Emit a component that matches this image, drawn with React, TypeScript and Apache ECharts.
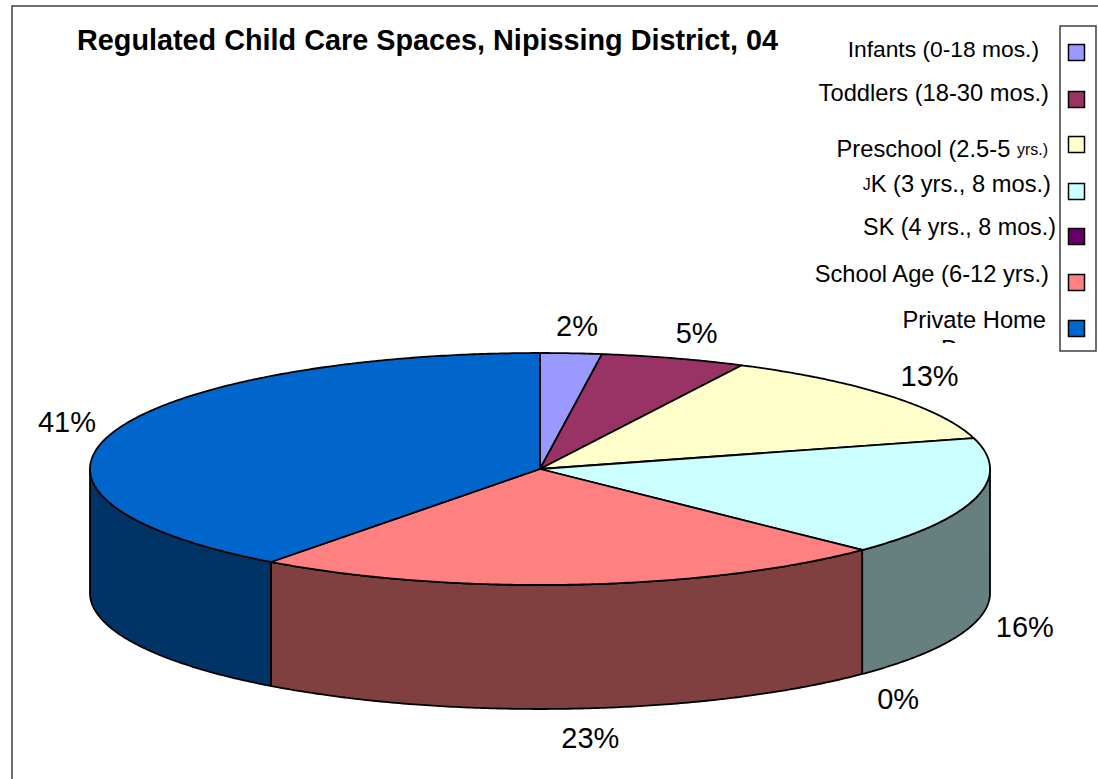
import React, { useEffect, useRef } from "react";
import * as echarts from "echarts";

const categories = [
  "Infants (0-18 mos.)",
  "Toddlers (18-30 mos.)",
  "Preschool (2.5-5 yrs.)",
  "JK (3 yrs., 8 mos.)",
  "SK (4 yrs., 8 mos.)",
  "School Age (6-12 yrs.)",
  "Private Home Daycare",
];
const shares = [2.2, 5.2, 13.3, 16.6, 0, 22.9, 39.8];
const percentLabels = ["2%", "5%", "13%", "16%", "0%", "23%", "41%"];
const topColors = ["#9999FF", "#993366", "#FFFFCC", "#CCFFFF", "#660066", "#FF8080", "#0066CC"];
const sideColors = ["#4D4D80", "#4D1A33", "#808066", "#668080", "#330033", "#804040", "#003366"];

const CX = 540;
const CY = 469;
const RX = 450;
const RY = 116;
const DEPTH = 124;
const FONT = "'Liberation Sans', Arial, sans-serif";
const labelNudge = [
  [6, -27],
  [23, -25],
  [42, -19],
  [49, 5],
  [36, 25],
  [15, 29],
  [-46, -10],
];
const legendRows = [
  { text: "Infants (0-18 mos.)", right: 1039, y: 49, box: 44, size: 22.8 },
  { text: "Toddlers (18-30 mos.)", right: 1049, y: 93, box: 91, size: 23.7 },
  { text: "Preschool (2.5-5 {s|yrs.)}", right: 1048, y: 149, box: 136, size: 23.7 },
  { text: "{s|J}K (3 yrs., 8 mos.)", right: 1051, y: 184, box: 183, size: 23.7 },
  { text: "SK (4 yrs., 8 mos.)", right: 1056, y: 227, box: 228, size: 23.3 },
  { text: "School Age (6-12 yrs.)", right: 1049, y: 274, box: 274, size: 23.7 },
  { text: "Private Home", right: 1046, y: 320, box: 320, size: 23.7 },
];
const clippedSecondLine = "Daycare";

const rim = (deg: number, dy = 0): number[] => {
  const t = (deg * Math.PI) / 180;
  return [CX + RX * Math.sin(t), CY - RY * Math.cos(t) + dy];
};

const arc = (a: number, b: number, dy = 0): number[][] => {
  const pts: number[][] = [];
  const n = Math.max(1, Math.ceil((b - a) / 0.5));
  for (let i = 0; i <= n; i++) pts.push(rim(a + ((b - a) * i) / n, dy));
  return pts;
};

const cumulative = shares.map((_, i) => shares.slice(0, i).reduce((s, v) => s + v, 0));
const total = shares.reduce((s, v) => s + v, 0);

const renderSlice = (params: any, api: any) => {
  const i = params.dataIndex;
  const start = (api.value(1) / total) * 360;
  const end = start + (api.value(0) / total) * 360;
  const children: any[] = [];
  if (end > start) {
    const from = Math.max(start, 90);
    const to = Math.min(end, 270);
    if (to > from) {
      children.push({
        type: "polygon",
        shape: { points: [...arc(from, to), ...arc(from, to, DEPTH).reverse()] },
        style: { fill: sideColors[i], stroke: "#000", lineWidth: 1.8, lineJoin: "round" },
      });
    }
    children.push({
      type: "polygon",
      shape: { points: [[CX, CY], ...arc(start, end)] },
      style: { fill: topColors[i], stroke: "#000", lineWidth: 1.8, lineJoin: "round" },
    });
  }
  const mid = (start + end) / 2;
  const front = Math.cos((mid * Math.PI) / 180) < 0;
  const [ax, ay] = rim(mid, front ? DEPTH : 0);
  children.push({
    type: "text",
    z2: 10,
    style: {
      text: percentLabels[i],
      x: ax + labelNudge[i][0],
      y: ay + labelNudge[i][1],
      align: "center",
      verticalAlign: "middle",
      fill: "#000",
      fontFamily: FONT,
      fontSize: 29,
    },
  });
  return { type: "group", children };
};

export default function App() {
  const ref = useRef<HTMLDivElement>(null);
  useEffect(() => {
    const chart = echarts.init(ref.current!, undefined, { renderer: "svg" });
    const legendGraphics: any[] = [
      {
        type: "rect",
        shape: { x: 1060, y: 26, width: 36, height: 325 },
        style: { fill: "#fff", stroke: "#404040", lineWidth: 1.5 },
        z: 1,
      },
    ];
    legendRows.forEach((row, i) => {
      legendGraphics.push({
        type: "text",
        z: 1,
        style: {
          text: row.text,
          x: row.right,
          y: row.y,
          align: "right",
          verticalAlign: "middle",
          fill: "#000",
          fontFamily: FONT,
          fontSize: row.size,
          rich: { s: { fontSize: 16, fontFamily: FONT, fill: "#000" } },
        },
      });
      legendGraphics.push({
        type: "rect",
        z: 2,
        shape: { x: 1068.5, y: row.box + 0.5, width: 16, height: 16 },
        style: { fill: topColors[i], stroke: "#000", lineWidth: 1.5 },
      });
    });
    legendGraphics.push({
      type: "text",
      z: 1,
      style: {
        text: clippedSecondLine,
        x: 941,
        y: 349,
        align: "left",
        verticalAlign: "middle",
        fill: "#000",
        fontFamily: FONT,
        fontSize: 23.7,
      },
    });
    legendGraphics.push({
      type: "rect",
      z: 3,
      shape: { x: 900, y: 343, width: 158, height: 24 },
      style: { fill: "#fff" },
    });
    chart.setOption({
      animation: false,
      backgroundColor: "#fff",
      title: {
        text: "Regulated Child Care Spaces, Nipissing District, 04",
        left: 72,
        top: 20,
        textStyle: { fontFamily: FONT, fontSize: 28.8, fontWeight: "bold", color: "#000" },
      },
      graphic: [
        {
          type: "rect",
          shape: { x: 12, y: 6, width: 1100, height: 800 },
          style: { fill: "none", stroke: "#404040", lineWidth: 1.5 },
          z: 0,
        },
        ...legendGraphics,
      ],
      series: [
        {
          type: "custom",
          coordinateSystem: "none",
          silent: true,
          clip: false,
          z: 5,
          renderItem: renderSlice,
          data: shares.map((v, i) => ({ name: categories[i], value: [v, cumulative[i]] })),
        },
      ],
    });
    return () => chart.dispose();
  }, []);
  return <div ref={ref} style={{ position: "fixed", left: 0, top: 0, width: 1098, height: 779 }} />;
}
